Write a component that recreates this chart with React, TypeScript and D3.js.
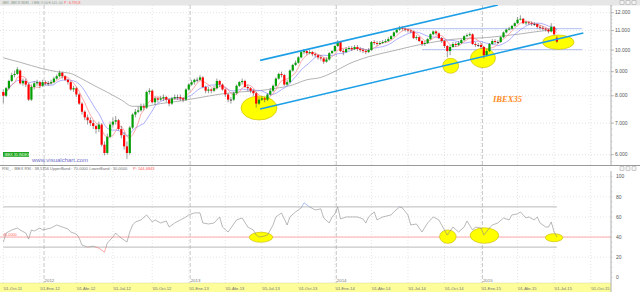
import React from 'react';
import * as d3 from 'd3';

// ---- Weekly OHLC (IBEX 35), one entry per weekly bar ----
const opens = [8150,8000,8300,8600,8850,8900,9050,8500,8600,8450,
7850,8350,8500,8550,8400,8550,8500,8500,8550,8700,
8800,8950,8800,8650,8550,8250,8300,8050,7700,7400,
7200,7100,7000,6900,6800,6950,6300,6050,6550,6950,
7050,7100,6800,6600,6250,6050,6850,7300,7400,7450,
7600,7550,8150,8200,7750,7900,7850,7900,7950,7850,
7700,7900,7950,7950,7900,7850,8250,8450,8550,8650,
8650,8750,8350,8200,8250,8200,8300,8600,8450,8250,
8050,7850,7850,8100,8400,8550,8600,8350,8300,8200,
8100,7700,7850,7900,7850,8050,8200,8400,8700,8900,
8850,8450,8550,9050,9300,9400,9650,9900,9950,9850,
9900,9800,9750,9650,9600,9450,9550,9850,9950,10200,
10400,9950,9900,10050,10100,10050,10150,10050,10000,9950,
9900,10000,10400,10350,10300,10350,10400,10450,10550,10700,
10900,11050,11150,11100,11050,11000,10950,10600,10650,10450,
10300,10350,10550,10800,10950,10850,10600,10450,10200,9950,
10150,10300,10250,10350,10500,10700,10750,10800,10300,10250,
10250,10150,9750,9950,10300,10450,10400,10400,10650,10900,
11050,11100,11250,11400,11600,11650,11400,11450,11400,11350,
11350,11200,11150,11100,11050,10950,11200,10620];

const highs = [8250,8350,8650,8950,9050,9200,9100,8700,8700,8500,
8450,8600,8650,8600,8650,8620,8600,8650,8780,8880,
9050,9000,8850,8700,8600,8400,8350,8100,7750,7450,
7300,7200,7100,6950,7050,7000,6400,6650,7050,7200,
7250,7150,6900,6700,6400,6900,7350,7500,7600,7700,
7700,8200,8300,8250,8000,7950,8000,8050,8000,7900,
7950,8050,8050,8050,7950,8300,8500,8650,8700,8750,
8850,8800,8400,8350,8300,8400,8700,8650,8500,8300,
8100,7950,8150,8450,8600,8700,8650,8450,8350,8250,
8150,7950,7980,7950,8100,8300,8450,8750,8950,9000,
8900,8650,9100,9350,9500,9700,9950,10050,10000,10000,
9950,9880,9800,9750,9650,9650,9900,10000,10250,10500,
10450,10050,10150,10200,10200,10250,10250,10150,10100,10050,
10100,10450,10500,10450,10450,10500,10550,10650,10750,10950,
11100,11250,11250,11150,11100,11050,11000,10750,10700,10500,
10450,10600,10850,11000,11000,10900,10650,10500,10250,10250,
10400,10400,10450,10550,10750,10850,10900,10850,10400,10350,
10350,10200,10050,10350,10550,10550,10500,10700,10950,11100,
11200,11300,11450,11750,11850,11700,11550,11500,11500,11450,
11400,11300,11250,11150,11100,11400,11250,10700];

const lows = [7700,7950,8250,8550,8750,8850,8450,8400,8350,7800,
7800,8250,8400,8300,8350,8420,8400,8450,8500,8650,
8750,8700,8600,8450,8200,8150,7950,7650,7300,7100,
6950,6900,6800,6650,6700,6250,5980,6000,6500,6850,
6950,6750,6500,6150,5880,6000,6800,7200,7350,7400,
7450,7500,8050,7700,7650,7750,7800,7800,7750,7600,
7650,7850,7850,7800,7750,7800,8200,8400,8450,8550,
8600,8300,8100,8100,8100,8150,8250,8350,8200,7950,
7750,7700,7800,8050,8350,8450,8300,8200,8100,8000,
7550,7650,7800,7750,7800,8000,8150,8350,8650,8750,
8400,8400,8500,9000,9250,9350,9600,9800,9750,9800,
9700,9650,9550,9500,9350,9400,9500,9800,9900,10150,
9900,9750,9850,10000,9950,10000,9950,9900,9850,9800,
9850,9950,10250,10200,10250,10300,10350,10400,10500,10650,
10850,11000,11000,10950,10900,10850,10550,10500,10400,10200,
10200,10300,10500,10750,10750,10550,10350,10100,9650,9750,
10100,10150,10200,10300,10450,10650,10700,10250,10150,10150,
10050,9600,9700,9900,10250,10300,10300,10350,10600,10850,
11000,11050,11200,11350,11550,11350,11300,11300,11250,11250,
11100,11050,11000,10950,10850,10900,10750,10350];

const closes = [8000,8300,8600,8850,8900,9100,8500,8600,8450,7850,
8350,8500,8550,8400,8550,8500,8500,8550,8700,8800,
8950,8800,8650,8550,8250,8300,8050,7700,7400,7200,
7100,7000,6900,6800,6950,6300,6050,6550,6950,7050,
7100,6800,6600,6250,6050,6850,7300,7400,7450,7600,
7550,8150,8200,7750,7900,7850,7900,7950,7850,7700,
7900,7950,7950,7900,7850,8250,8450,8550,8650,8650,
8750,8350,8200,8250,8200,8300,8600,8450,8250,8050,
7850,7850,8100,8400,8550,8600,8350,8300,8200,8100,
7700,7850,7900,7850,8050,8200,8400,8700,8900,8850,
8450,8550,9050,9300,9400,9650,9900,9950,9850,9900,
9800,9750,9650,9600,9450,9550,9850,9950,10200,10400,
9950,9900,10050,10100,10050,10150,10050,10000,9950,9900,
10000,10400,10350,10300,10350,10400,10450,10550,10700,10900,
11050,11150,11100,11050,11000,10950,10600,10650,10450,10300,
10350,10550,10800,10950,10850,10600,10450,10200,9950,10150,
10300,10250,10350,10500,10700,10750,10800,10300,10250,10250,
10150,9750,9950,10300,10450,10400,10400,10650,10900,11050,
11100,11250,11400,11600,11650,11400,11450,11400,11350,11350,
11200,11150,11100,11050,10950,11200,10800,10420];

// long moving average
const grayIdx = [0,6,14,19,24,27,32,37,42,46,50,56,63,70,77,84,91,97,102,108,113,117,123,130,138,145,152,160,172,184,193,197];
const grayVal = [9630,9420,9130,9000,8920,8750,8430,8140,7840,7600,7600,7700,7800,7930,8060,8150,8200,8300,8400,8650,8750,8950,9350,9680,9940,10170,10370,10540,10630,10820,11000,11040];

// RSI (bar index, value)
const rsiIdx = [0,1,3,5,6,8,9,10,11,13,14,17,19,21,23,24,26,27,28,30,32,34,36,37,39,40,41,43,44,45,46,47,49,51,53,54,56,58,59,61,63,65,66,68,70,71,73,75,77,78,80,81,83,85,87,89,90,91,93,94,96,97,99,101,102,104,106,107,109,111,113,114,116,117,118,119,120,122,123,126,128,129,130,132,133,135,138,139,141,142,144,145,147,149,151,153,155,157,158,160,162,164,165,167,168,170,171,173,174,176,178,180,181,183,184,186,187,189,190,191,193,194,195,196,197];
const rsiVal = [35,44,47,49,47,44,38,47,46,49,47,49,52,50,48,45,43,39,32,30,31,29,25,34,40,44,41,37,35,45,52,55,57,62,55,57,54,56,50,54,57,60,62,64,64,54,53,54,60,50,45,49,57,59,50,47,42,40,41,42,52,60,64,52,60,65,69,74,70,67,68,59,54,60,63,70,58,60,60,60,58,54,60,65,57,60,62,65,70,69,62,52,53,45,54,60,57,47,42,50,45,50,56,47,50,49,42,49,52,54,59,57,62,63,65,59,60,57,60,54,50,50,55,45,40];

// axis labels
const tickIdx = [0,13,26,39,53,66,79,92,105,118,131,144,157,170,183,196,209];
const tickLabels = ["'01-Oct-11","'01-Ene-12","'01-Abr-12","'01-Jul-12","'05-Oct-12","'01-Ene-13","'05-Abr-13","'05-Jul-13","'01-Oct-13","'01-Ene-14","'01-Abr-14","'01-Jul-14","'01-Oct-14","'01-Ene-15","'01-Abr-15","'01-Jul-15","'01-Oct-15"];
const yearIdx = [14.5,66.5,118.5,170.5];
const yearLabels = ['2012','2013','2014','2015'];
const priceTicks = [6000,7000,8000,9000,10000,11000,12000];
const rsiTicks = [0,20,40,60,80,100];

// drawn channel (bar index, price)
const upperIdx = [91.4,176];
const upperVal = [9510,12460];
const lowerIdx = [91.4,206.4];
const lowerVal = [7500,10870];
// horizontal levels
const levelVal = [11100,10020];
const levelFrom = [142,149];
const levelTo = [206,206];
// highlight ellipses
const ellIdx = [91,159.2,170.7,197.5];
const ellVal = [7537,9260,9619,10391];
const ellRx = [18,8,12.5,15.7];
const ellRy = [12,7.5,9.7,7.2];
const rEllIdx = [91.7,158.2,171.2,196];
const rEllVal = [39.8,40.4,41.5,39.4];
const rEllRx = [11.7,8.3,14.3,8.7];
const rEllRy = [5,6.7,7.8,4];

const F = 'Liberation Sans, Arial, sans-serif';
const AX = 611;
const MAIN_TOP = 5, MAIN_BOT = 165;
const RSI_TOP = 171, RSI_BOT = 283;

export default function App() {
  const x = d3.scaleLinear().domain([0, 197]).range([3.3, 556.9]);
  const y = d3.scaleLog().domain([5706, 12460]).range([MAIN_BOT, MAIN_TOP]);
  const ry = d3.scaleLinear().domain([0, 100]).range([277.3, 176.7]);
  const fmt = d3.formatLocale({ decimal: ',', thousands: '.', grouping: [3], currency: ['', ''] }).format(',.0f');
  const sma = (n: number) => closes.map((_, i) => d3.mean(closes.slice(Math.max(0, i - n + 1), i + 1)) as number);
  const red = sma(5);
  const blue = sma(10);
  const maLine = d3.line<number>().x((_, i) => x(i)).y(d => y(d));
  const grayLine = d3.line<number>().x((_, i) => x(grayIdx[i])).y(d => y(d)).curve(d3.curveMonotoneX);
  const rsiLine = d3.line<number>().x((_, i) => x(rsiIdx[i])).y(d => ry(d));
  const rsiPath = rsiLine(rsiVal) || '';
  const minorP = d3.range(5800, 12500, 200);
  const minorR = d3.range(0, 101, 5);

  return (
    <svg width={640} height={292} style={{ position: 'absolute', left: 0, top: 0, background: '#fff' }} fontFamily={F}>
      <defs>
        <clipPath id="mainClip"><rect x={0} y={MAIN_TOP} width={AX} height={MAIN_BOT - MAIN_TOP} /></clipPath>
        <clipPath id="rsiHi"><rect x={0} y={RSI_TOP} width={AX} height={ry(70) - RSI_TOP} /></clipPath>
        <clipPath id="rsiMid"><rect x={0} y={ry(70)} width={AX} height={ry(30) - ry(70)} /></clipPath>
        <clipPath id="rsiLo"><rect x={0} y={ry(30)} width={AX} height={RSI_BOT - ry(30)} /></clipPath>
      </defs>
      <rect x={0} y={0} width={640} height={292} fill="#fff" />
      {/* top header */}
      <rect x={0} y={0} width={640} height={5.5} fill="#e6e6e6" />
      <text x={2} y={4.1} fontSize={2.6} fill="#7a907a">.IBEX - IBEX 35 INDEX - 1 SEM, O: 0,0 H: 0,0 L: 0,0</text>
      <text x={64} y={4.1} fontSize={3.4} fill="#ff5555">P : 6.795,8</text>
      {[620, 626, 632].map(v => <rect key={v} x={v} y={0.8} width={4} height={3.6} fill="#f4f4f4" stroke="#888" strokeWidth={0.4} />)}

      {/* main grid */}
      {priceTicks.map(p => <line key={p} x1={0} x2={AX} y1={y(p)} y2={y(p)} stroke="#cfcfcf" strokeWidth={0.6} strokeDasharray="1,2" />)}
      {tickIdx.map(t => <line key={'vg' + t} x1={x(t)} x2={x(t)} y1={MAIN_TOP} y2={MAIN_BOT} stroke="#d5d5d5" strokeWidth={0.6} strokeDasharray="1,2" />)}
      {tickIdx.map(t => <line key={'vr' + t} x1={x(t)} x2={x(t)} y1={RSI_TOP} y2={RSI_BOT} stroke="#d5d5d5" strokeWidth={0.6} strokeDasharray="1,2" />)}
      {[20, 40, 60, 80, 100].map(v => <line key={'rg' + v} x1={0} x2={AX} y1={ry(v)} y2={ry(v)} stroke="#d5d5d5" strokeWidth={0.6} strokeDasharray="1,2" />)}
      {yearIdx.map(t => <line key={'yl' + t} x1={x(t)} x2={x(t)} y1={MAIN_TOP} y2={RSI_BOT} stroke="#b0b0b0" strokeWidth={0.7} strokeDasharray="4,2" />)}

      <g clipPath="url(#mainClip)">
        {/* horizontal levels */}
        {levelVal.map((v, k) => <line key={'lv' + k} x1={x(levelFrom[k])} x2={x(levelTo[k])} y1={y(v)} y2={y(v)} stroke="#a9b9ef" strokeWidth={0.9} />)}
        {/* moving averages */}
        <path d={grayLine(grayVal) || ''} fill="none" stroke="#a0a0a0" strokeWidth={0.8} />
        <path d={maLine(blue) || ''} fill="none" stroke="#8c8cff" strokeWidth={0.7} />
        <path d={maLine(red) || ''} fill="none" stroke="#ff7070" strokeWidth={0.6} />
        {/* ellipses */}
        {ellIdx.map((t, k) => <ellipse key={'el' + k} cx={x(t)} cy={y(ellVal[k])} rx={ellRx[k]} ry={ellRy[k]} fill="#ffff00" stroke="#c8b400" strokeWidth={0.6} />)}
        {/* candles */}
        {closes.map((c, i) => {
          const o = opens[i];
          const cx = x(i);
          const up = c >= o;
          const yT = y(Math.max(o, c));
          const yB = y(Math.min(o, c));
          return (
            <g key={i}>
              <line x1={cx} x2={cx} y1={y(highs[i])} y2={y(lows[i])} stroke="#555" strokeWidth={0.6} />
              <rect x={cx - 1.1} y={yT} width={2.2} height={Math.max(0.8, yB - yT)} fill={o === c ? '#222' : up ? '#00a000' : '#ff0000'} />
            </g>
          );
        })}
        {/* channel */}
        <line x1={x(upperIdx[0])} x2={x(upperIdx[1])} y1={y(upperVal[0])} y2={y(upperVal[1])} stroke="#1c9fe6" strokeWidth={1.6} />
        <line x1={x(lowerIdx[0])} x2={x(lowerIdx[1])} y1={y(lowerVal[0])} y2={y(lowerVal[1])} stroke="#1c9fe6" strokeWidth={1.6} />
      </g>

      <text x={493} y={101.5} fontSize={8.6} fontFamily="Liberation Serif, serif" fontStyle="italic" fontWeight="bold" fill="#ff8a1e">IBEX35</text>
      <rect x={3} y={152} width={26} height={4.8} fill="#1fa51f" />
      <text x={4.5} y={155.8} fontSize={3.6} fill="#e8ffe8">IBEX 35 INDEX</text>
      <text x={32} y={161.5} fontSize={6} fill="#7070c8">www.visualchart.com</text>

      {/* main right axis */}
      <line x1={AX} x2={AX} y1={MAIN_TOP} y2={MAIN_BOT} stroke="#999" strokeWidth={0.8} />
      {minorP.map(p => <line key={'mp' + p} x1={AX} x2={AX + 1.5} y1={y(p)} y2={y(p)} stroke="#aaa" strokeWidth={0.4} />)}
      {priceTicks.map(p => <line key={'tp' + p} x1={AX} x2={AX + 3} y1={y(p)} y2={y(p)} stroke="#888" strokeWidth={0.5} />)}
      {priceTicks.map(p => <text key={'lp' + p} x={615} y={y(p) + 1.7} fontSize={5} fill="#555">{fmt(p)}</text>)}

      {/* separator */}
      <line x1={0} x2={640} y1={165.5} y2={165.5} stroke="#9a9a9a" strokeWidth={1} />
      {[620, 626, 632].map(v => <rect key={'r' + v} x={v} y={166.8} width={4} height={3.6} fill="#f4f4f4" stroke="#888" strokeWidth={0.4} />)}
      <text x={2} y={170} fontSize={4} fill="#707070">RSI_ . IBEX RSI : 38,5756  UpperBand : 70,0000  LowerBand : 30,0000</text>
      <text x={133} y={170} fontSize={4} fill="#ff5555">P: 144,6843</text>

      {/* RSI panel */}
      <line x1={0} x2={AX} y1={ry(40)} y2={ry(40)} stroke="#ffaaaa" strokeWidth={1} />
      <text x={3} y={235.5} fontSize={3.8} fill="#ff6666">40,0000</text>
      <line x1={x(0)} x2={x(197)} y1={ry(70)} y2={ry(70)} stroke="#a8a8a8" strokeWidth={0.8} />
      <line x1={x(0)} x2={x(197)} y1={ry(30)} y2={ry(30)} stroke="#a8a8a8" strokeWidth={0.8} />
      {rEllIdx.map((t, k) => <ellipse key={'re' + k} cx={x(t)} cy={ry(rEllVal[k])} rx={rEllRx[k]} ry={rEllRy[k]} fill="#ffff00" stroke="#c8b400" strokeWidth={0.6} />)}
      <path d={rsiPath} fill="none" stroke="#8a8a8a" strokeWidth={0.6} clipPath="url(#rsiMid)" />
      <path d={rsiPath} fill="none" stroke="#7a9cf0" strokeWidth={0.6} clipPath="url(#rsiHi)" />
      <path d={rsiPath} fill="none" stroke="#ff7070" strokeWidth={0.6} clipPath="url(#rsiLo)" />

      <line x1={AX} x2={AX} y1={RSI_TOP} y2={RSI_BOT} stroke="#999" strokeWidth={0.8} />
      {minorR.map(v => <line key={'mr' + v} x1={AX} x2={AX + 1.5} y1={ry(v)} y2={ry(v)} stroke="#aaa" strokeWidth={0.4} />)}
      {rsiTicks.map(v => <text key={'lr' + v} x={616} y={ry(v) + 1.7} fontSize={5} fill="#555">{v}</text>)}

      {yearIdx.map((t, k) => <text key={'yt' + k} x={x(t) + 0.5} y={281.5} fontSize={4.4} fill="#777">{yearLabels[k]}</text>)}

      {/* date axis */}
      <rect x={0} y={283} width={AX} height={9} fill="#fdfd9a" />
      <line x1={0} x2={AX} y1={283} y2={283} stroke="#d8d890" strokeWidth={0.5} />
      {tickIdx.map((t, k) => <text key={'dt' + k} x={x(t)} y={290} fontSize={4.1} fill="#707070">{tickLabels[k]}</text>)}
      <line x1={AX} x2={AX} y1={283} y2={292} stroke="#999" strokeWidth={0.8} />
    </svg>
  );
}
